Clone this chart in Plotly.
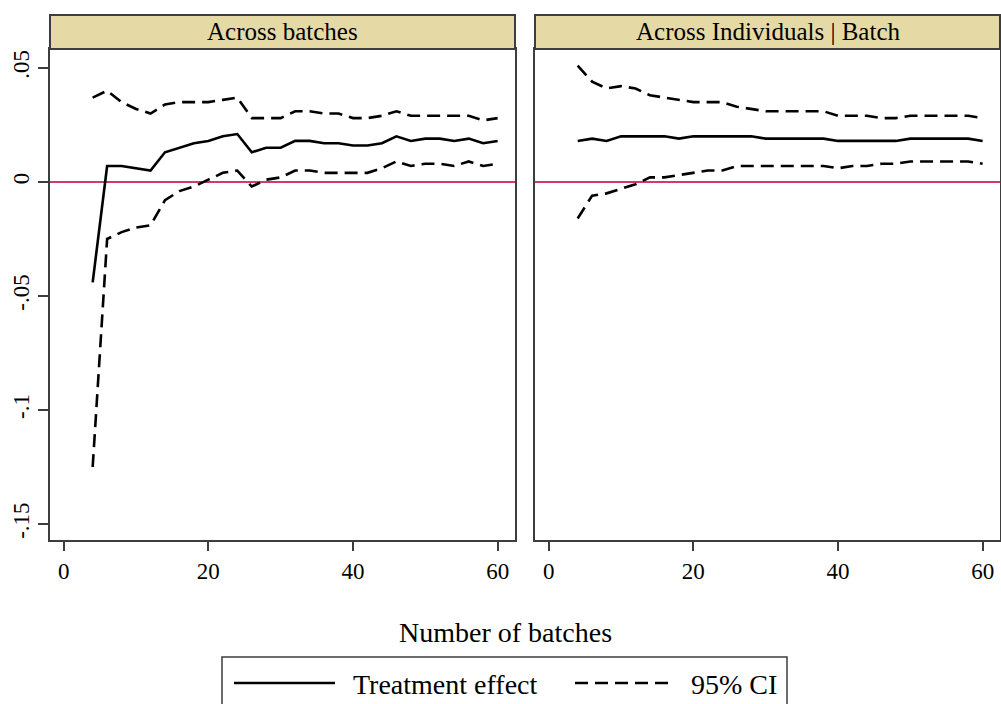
import plotly.graph_objects as go

# ---------------- data ----------------
batches = [4, 6, 8, 10, 12, 14, 16, 18, 20, 22, 24, 26, 28, 30, 32, 34, 36, 38, 40,
           42, 44, 46, 48, 50, 52, 54, 56, 58, 60]

# Panel 1: Across batches
effect_batches = [-0.044, 0.007, 0.007, 0.006, 0.005, 0.013, 0.015, 0.017, 0.018, 0.020,
                  0.021, 0.013, 0.015, 0.015, 0.018, 0.018, 0.017, 0.017, 0.016, 0.016,
                  0.017, 0.020, 0.018, 0.019, 0.019, 0.018, 0.019, 0.017, 0.018]
upper_batches = [0.037, 0.040, 0.035, 0.032, 0.030, 0.034, 0.035, 0.035, 0.035, 0.036,
                 0.037, 0.028, 0.028, 0.028, 0.031, 0.031, 0.030, 0.030, 0.028, 0.028,
                 0.029, 0.031, 0.029, 0.029, 0.029, 0.029, 0.029, 0.027, 0.028]
lower_batches = [-0.125, -0.025, -0.022, -0.020, -0.019, -0.008, -0.004, -0.002, 0.001, 0.004,
                 0.005, -0.002, 0.001, 0.002, 0.005, 0.005, 0.004, 0.004, 0.004, 0.004,
                 0.006, 0.009, 0.007, 0.008, 0.008, 0.007, 0.009, 0.007, 0.008]

# Panel 2: Across Individuals | Batch
effect_indiv = [0.018, 0.019, 0.018, 0.020, 0.020, 0.020, 0.020, 0.019, 0.020, 0.020,
                0.020, 0.020, 0.020, 0.019, 0.019, 0.019, 0.019, 0.019, 0.018, 0.018,
                0.018, 0.018, 0.018, 0.019, 0.019, 0.019, 0.019, 0.019, 0.018]
upper_indiv = [0.051, 0.044, 0.041, 0.042, 0.041, 0.038, 0.037, 0.036, 0.035, 0.035,
               0.035, 0.033, 0.032, 0.031, 0.031, 0.031, 0.031, 0.031, 0.029, 0.029,
               0.029, 0.028, 0.028, 0.029, 0.029, 0.029, 0.029, 0.029, 0.028]
lower_indiv = [-0.016, -0.006, -0.005, -0.003, -0.001, 0.002, 0.002, 0.003, 0.004, 0.005,
               0.005, 0.007, 0.007, 0.007, 0.007, 0.007, 0.007, 0.007, 0.006, 0.007,
               0.007, 0.008, 0.008, 0.009, 0.009, 0.009, 0.009, 0.009, 0.008]

panel_titles = ["Across batches", "Across Individuals | Batch"]
x_ticks = [0, 20, 40, 60]
y_ticks = [0.05, 0, -0.05, -0.1, -0.15]
y_tick_labels = [".05", "0", "-.05", "-.1", "-.15"]
x_title = "Number of batches"
legend_labels = ["Treatment effect", "95% CI"]

# ---------------- layout helpers ----------------
W, H = 1001, 704
def px(x):
    return x / W
def py(y):
    return 1 - y / H

FONT = "Liberation Serif, Times New Roman, serif"
FRAME = "#3d3d3d"
STRIP = "#e5daa6"
RED = "#d23a6a"
DASH = "13px,7px"
LW = 2.6

fig = go.Figure()

panels = [
    ("x", "y", effect_batches, upper_batches, lower_batches),
    ("x2", "y2", effect_indiv, upper_indiv, lower_indiv),
]
for xa, ya, eff, up, lo in panels:
    fig.add_trace(go.Scatter(x=batches, y=up, mode="lines", xaxis=xa, yaxis=ya,
                             line=dict(color="black", width=LW, dash=DASH), showlegend=False))
    fig.add_trace(go.Scatter(x=batches, y=lo, mode="lines", xaxis=xa, yaxis=ya,
                             line=dict(color="black", width=LW, dash=DASH), showlegend=False))
    fig.add_trace(go.Scatter(x=batches, y=eff, mode="lines", xaxis=xa, yaxis=ya,
                             line=dict(color="black", width=LW), showlegend=False))

plot_top, plot_bot = 49, 540
left_dom = [px(50), px(515)]
right_dom = [px(535), px(1000)]
ydom = [py(plot_bot), py(plot_top)]
xrange_ = [-1.9, 62.4]
yrange_ = [-0.157, 0.0583]

xaxis_common = dict(range=xrange_, tickvals=x_ticks, ticktext=[str(t) for t in x_ticks],
                    ticks="outside", ticklen=9, tickwidth=1.5, tickcolor=FRAME,
                    showline=True, linecolor=FRAME, linewidth=2, mirror=True,
                    showgrid=False, zeroline=False,
                    tickfont=dict(family=FONT, size=23, color="black"))
yaxis_common = dict(range=yrange_, domain=ydom, showline=True, linecolor=FRAME, linewidth=2,
                    mirror=True, showgrid=False, zeroline=False)

fig.update_layout(
    width=W, height=H,
    margin=dict(l=0, r=0, t=0, b=0),
    paper_bgcolor="white", plot_bgcolor="white",
    showlegend=False,
    xaxis=dict(domain=left_dom, anchor="y", **xaxis_common),
    xaxis2=dict(domain=right_dom, anchor="y2", **xaxis_common),
    yaxis=dict(anchor="x", tickvals=y_ticks, ticktext=y_tick_labels, ticks="outside",
               ticklen=10, tickwidth=1.5, tickcolor=FRAME, tickangle=-90,
               tickfont=dict(family=FONT, size=23, color="black"), **yaxis_common),
    yaxis2=dict(anchor="x2", matches="y", showticklabels=False, ticks="", **yaxis_common),
)

shapes = []
annotations = []
# zero reference lines
for xr, yr in [("x domain", "y"), ("x2 domain", "y2")]:
    shapes.append(dict(type="line", xref=xr, yref=yr, x0=0, x1=1, y0=0, y1=0,
                       line=dict(color=RED, width=2), layer="below"))
# header strips
for dom, title in zip([left_dom, right_dom], panel_titles):
    shapes.append(dict(type="rect", xref="paper", yref="paper", x0=dom[0], x1=dom[1],
                       y0=py(49), y1=py(15), fillcolor=STRIP, line=dict(color=FRAME, width=2)))
    annotations.append(dict(xref="paper", yref="paper", x=(dom[0] + dom[1]) / 2, y=py(32),
                            text=title, showarrow=False, xanchor="center", yanchor="middle",
                            font=dict(family=FONT, size=25, color="black")))

# x axis title
annotations.append(dict(xref="paper", yref="paper", x=px(505), y=py(632), text=x_title,
                        showarrow=False, xanchor="center", yanchor="middle",
                        font=dict(family=FONT, size=28, color="black")))

# legend box
shapes.append(dict(type="rect", xref="paper", yref="paper", x0=px(222), x1=px(787),
                   y0=py(730), y1=py(657), fillcolor="white", line=dict(color=FRAME, width=1.5)))
shapes.append(dict(type="line", xref="paper", yref="paper", x0=px(234), x1=px(335),
                   y0=py(683), y1=py(683), line=dict(color="black", width=LW)))
shapes.append(dict(type="line", xref="paper", yref="paper", x0=px(575), x1=px(675),
                   y0=py(683), y1=py(683), line=dict(color="black", width=LW, dash=DASH)))
annotations.append(dict(xref="paper", yref="paper", x=px(351), y=py(684), text=legend_labels[0],
                        showarrow=False, xanchor="left", yanchor="middle",
                        font=dict(family=FONT, size=28, color="black")))
annotations.append(dict(xref="paper", yref="paper", x=px(689), y=py(684), text=legend_labels[1],
                        showarrow=False, xanchor="left", yanchor="middle",
                        font=dict(family=FONT, size=28, color="black")))

fig.update_layout(shapes=shapes, annotations=annotations)
fig.write_html("out.html")
